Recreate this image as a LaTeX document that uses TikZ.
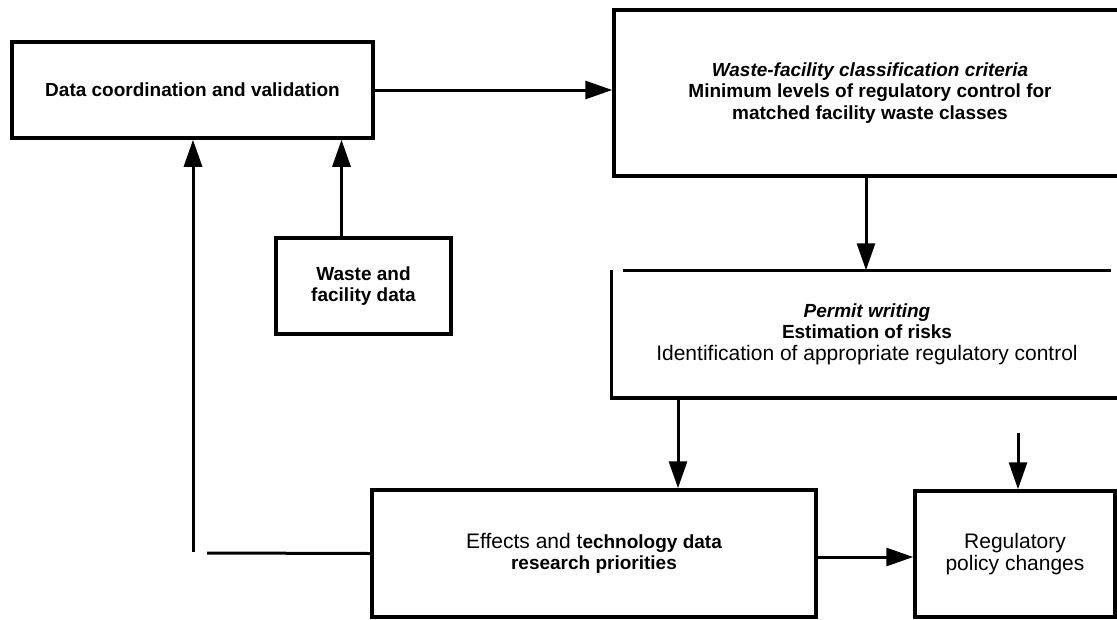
\documentclass[tikz,border=0pt]{standalone}
\usepackage{fontspec}
\setmainfont{Liberation Sans}
\usetikzlibrary{arrows.meta}
\tikzset{box/.style = {draw, line width=3.5pt, inner sep=0pt, align=center,
                       font=\bfseries\fontsize{19}{21.5}\selectfont},
         boxline/.style = {line width=3.5pt},
         flow/.style = {line width=3pt, -{Triangle[length=27pt,width=18pt]}}}
\newcommand{\plaintxt}{\mdseries\fontsize{21}{22.5}\selectfont}

\begin{document}
\begin{tikzpicture}[x=1pt, y=-1pt]
    \useasboundingbox (0, 0) rectangle (1117, 619);
    \clip (0, 0) rectangle (1117, 619);

    \node [box, minimum width=361pt, minimum height=96pt] (coord) at (192.5, 90)
        {Data coordination and validation};
    \node [box, minimum width=512pt, minimum height=166pt] (crit) at (870, 93)
        {{\itshape Waste-facility classification criteria}\\
         Minimum levels of regulatory control for\\
         matched facility waste classes};
    \node [box, minimum width=175pt, minimum height=96pt] (waste) at (363.5, 286)
        {Waste and\\facility data};
    \node [box, draw=none, minimum width=508pt, minimum height=124pt] (permit) at (867, 334)
        {{\itshape Permit writing}\\
         Estimation of risks\\
         {\plaintxt Identification of appropriate regulatory control}};
    \node [box, minimum width=444pt, minimum height=127pt] (effects) at (594, 553.5)
        {{\plaintxt Effects and t}echnology data\\research priorities};
    \node [box, minimum width=200pt, minimum height=126pt, font=\plaintxt] (reg) at (1015, 554)
        {Regulatory\\policy changes};

    % open outline of the permit box
    \draw [boxline] ([xshift=12pt]permit.north west) -- ([xshift=-12pt]permit.north east);
    \draw [boxline] (permit.north west) -- (permit.south west) -- ([xshift=10pt]permit.south east);

    \coordinate (fbend) at (207, 553);
    \coordinate (fbup) at (193, 552);
    \coordinate (regin) at (1018, 433);

    \draw [flow] (coord.east) -- (coord.east -| crit.west);
    \draw [flow] ([xshift=-22pt]waste.north) -- ([xshift=-22pt]waste.north |- coord.south);
    \draw [line width=3pt] (effects.west) -- (fbend);
    \draw [flow] (fbup) -- (fbup |- coord.south);
    \draw [flow] ([xshift=-4pt]crit.south) -- ([xshift=-4pt]crit.south |- permit.north);
    \draw [flow] (permit.south -| 678, 0) -- (678, 0 |- effects.north);
    \draw [flow] (regin) -- (regin |- reg.north);
    \draw [flow] (effects.east |- 0, 557) -- (reg.west |- 0, 557);
\end{tikzpicture}
\end{document}
